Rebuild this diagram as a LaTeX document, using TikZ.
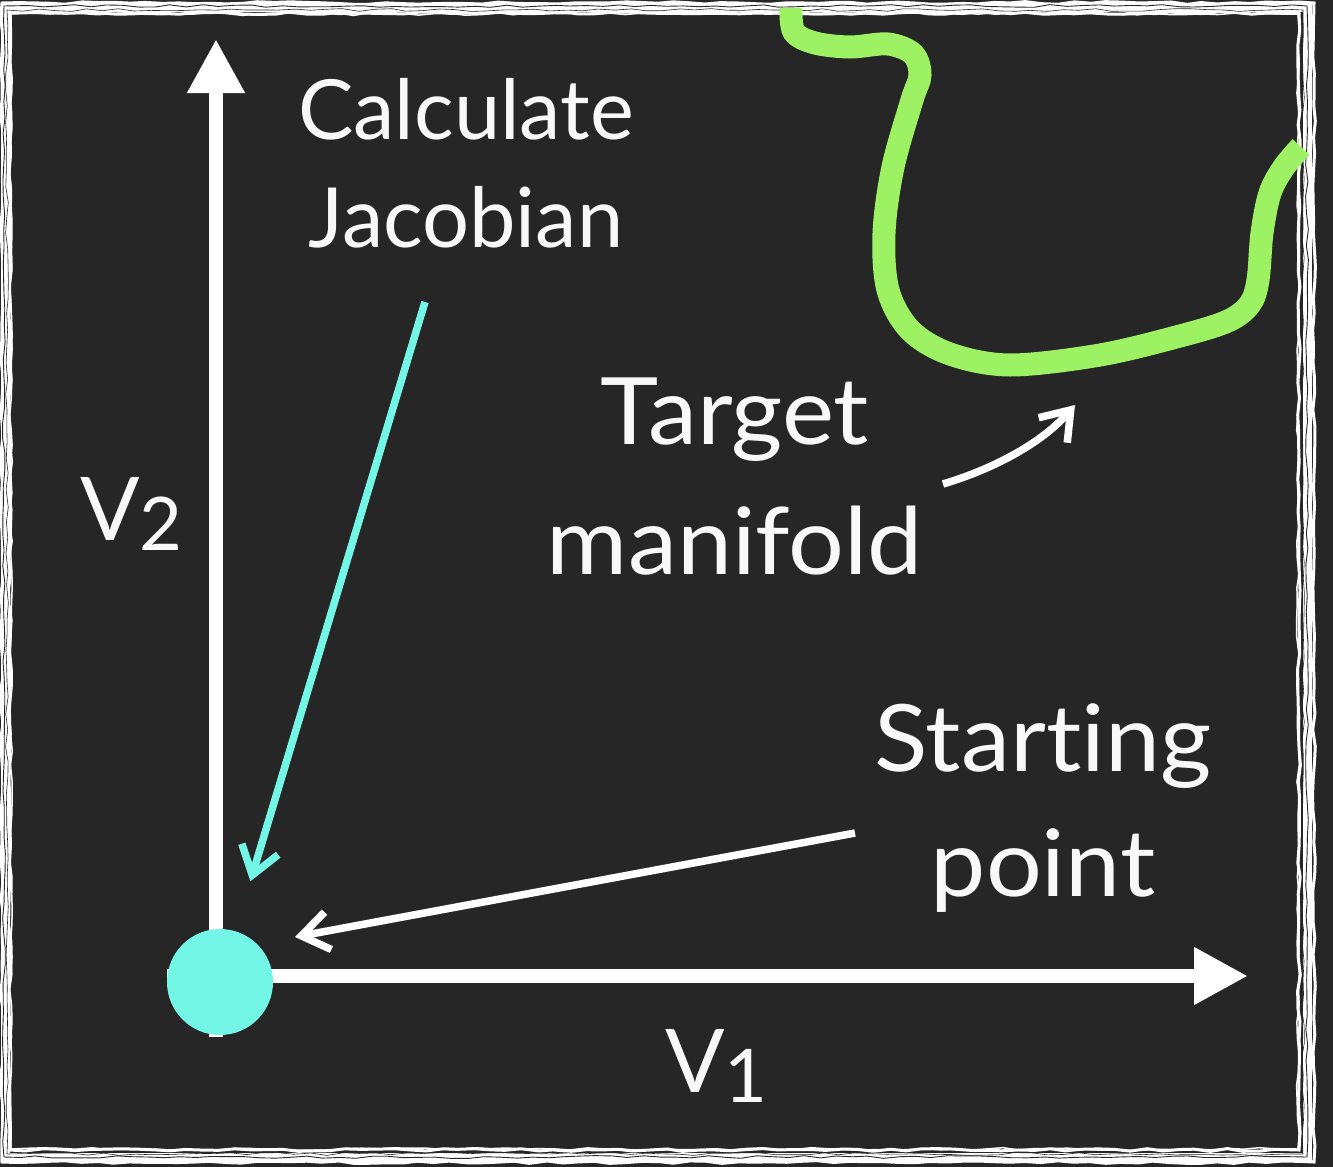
\documentclass[tikz,border=0pt]{standalone}
\usepackage{fontspec}
\setmainfont{Lato}[Ligatures=NoCommon]
\newfontfamily\widefont{Lato}[FakeStretch=1.06, Ligatures=NoCommon]
\usetikzlibrary{arrows.meta,decorations.pathmorphing}
\definecolor{bg}{HTML}{262626}
\definecolor{cyanc}{HTML}{74F6E7}
\definecolor{greenc}{HTML}{9DF263}
\definecolor{txt}{HTML}{F8F8F8}
\begin{document}
\begin{tikzpicture}[x=1pt,y=-1pt,
  lbl/.style={text=txt, align=center, inner sep=0pt},
  axislabel/.style={text=txt, inner sep=0pt, anchor=base west, font=\fontsize{88}{96}\selectfont},
  axisline/.style={draw=white, line width=14pt, -{Triangle[length=54pt,width=54pt]}},
  barb/.style={line width=7.5pt, -{Straight Barb[length=27pt,width=38pt]}},
  rough/.style={decorate, decoration={random steps, segment length=16pt, amplitude=1.4pt}},
  manifold/.style={draw=greenc, line width=23pt, line cap=butt}]
\useasboundingbox (0,0) rectangle (1333,1167);
\fill[bg] (0,0) rectangle (1333,1167);
% hand-drawn frame
\pgfmathsetseed{7}
\draw[white, line width=9pt] (5,7) rectangle (1307,1157);
\draw[rough, white, line width=3pt] (10,13) rectangle (1299,1150);
\draw[rough, white, line width=3pt] (2,3) rectangle (1314,1162);
\draw[rough, bg, line width=0.9pt] (4,6) rectangle (1307,1157);
\draw[rough, bg, line width=0.6pt] (7,10) rectangle (1303,1154);
\draw[rough, white, line width=1.5pt] (11,14) rectangle (1298,1149);
% target manifold
\draw[manifold] plot[smooth, tension=0.55] coordinates {
 (791,8) (794,32) (815,43) (850,47) (888,44) (913,54) (920,75) (912,100)
 (893,167) (884,233) (888,290) (910,330) (950,354) (1010,365) (1100,355)
 (1180,336) (1228,321) (1250,304) (1258,280) (1262,233) (1270,193) (1284,167) (1301,147)};
% axes
\coordinate (ybot) at (216,1037);
\coordinate (ytop) at (216,39);
\coordinate (xleft) at (167,976);
\coordinate (xright) at (1248,976);
\draw[axisline] (ybot) -- (ytop);
\draw[axisline] (xleft) -- (xright);
% starting point
\node[circle, fill=cyanc, minimum size=106pt, inner sep=0pt] (start) at (220,982) {};
% labels
\node[lbl, font=\fontsize{83}{108}\selectfont] (jac) at (466,163) {Calculate\\Jacobian};
\node[lbl, font=\widefont\fontsize{93}{130}\selectfont] (target) at (735,477) {Target\\manifold};
\node[lbl, font=\widefont\fontsize{93}{125}\selectfont] (sp) at (1043,808) {Starting\\point};
\node[axislabel] (v2) at (80,540) {V\raisebox{-10pt}{\fontsize{74}{80}\selectfont 2}};
\node[axislabel] (v1) at (665,1092) {V\raisebox{-10pt}{\fontsize{74}{80}\selectfont 1}};
% connectors
\coordinate (jacA) at (425,302);
\draw[barb, draw=cyanc] (jacA) -- (start) [shorten >=52pt];
\coordinate (spA) at (855,833);
\coordinate (spB) at (295,937);
\draw[barb, draw=white] (spA) -- (spB);
\coordinate (tmA) at (943,484);
\coordinate (tmB) at (1075,405);
\draw[barb, draw=white] (tmA) .. controls (990,470) and (1040,445) .. (tmB);
\end{tikzpicture}
\end{document}
